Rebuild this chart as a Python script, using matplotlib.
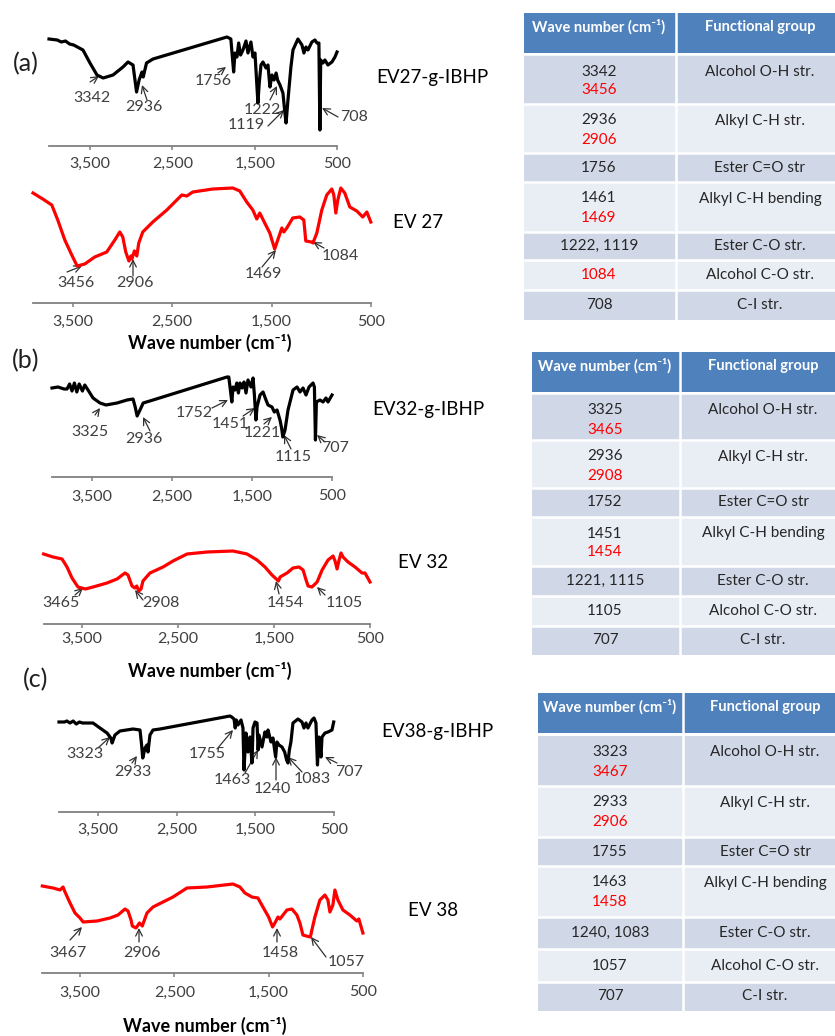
import matplotlib
matplotlib.use("Agg")
import matplotlib.pyplot as plt
from matplotlib.patches import Rectangle

plt.rcParams['font.family'] = ['Lato', 'DejaVu Sans']

# ---------------- FTIR spectra (wavenumber cm-1, transmittance a.u.) ----------------
ev27g_wn = [4000, 3900, 3850, 3800, 3750, 3700, 3587, 3502, 3417, 3342, 3222, 3101, 3040, 2979,
            2960, 2936, 2905, 2870, 2855, 2815, 2736, 1837, 1813, 1790, 1756, 1740, 1716, 1695,
            1672, 1643, 1606, 1582, 1546, 1521, 1497, 1461, 1445, 1424, 1400, 1363, 1339, 1315,
            1290, 1265, 1240, 1222, 1193, 1157, 1133, 1119, 1096, 1060, 1035, 975, 926, 902, 877,
            853, 805, 768, 744, 720, 708, 698, 671, 647, 610, 562, 525, 500]
ev27g_t = [107, 106, 104, 105, 102, 101, 96, 83, 71, 68, 71, 79, 84, 81,
           69, 54, 66, 74, 69, 83, 87, 109, 108, 107, 74, 93, 89, 103,
           91, 96, 105, 93, 104, 89, 93, 43, 63, 81, 84, 78, 81, 59,
           71, 66, 73, 66, 61, 53, 33, 23, 46, 79, 96, 107, 101, 93, 99,
           96, 104, 106, 103, 103, 16, 86, 83, 86, 81, 84, 89, 94]

ev27_wn = [3900, 3802, 3711, 3651, 3580, 3510, 3456, 3379, 3279, 3158, 3077, 3027, 2997, 2967,
           2935, 2915, 2906, 2880, 2856, 2836, 2796, 2695, 2554, 2403, 2353, 2293, 2092, 1890,
           1820, 1750, 1689, 1649, 1619, 1569, 1518, 1469, 1438, 1397, 1377, 1347, 1287, 1216,
           1176, 1156, 1100, 1084, 1045, 995, 945, 894, 874, 854, 834, 804, 764, 713, 643, 583,
           542, 502]
ev27_t = [110, 104, 98, 83, 63, 48, 37, 39, 46, 51, 63, 71, 66, 51,
          42, 47, 44, 52, 47, 60, 71, 81, 93, 108, 107, 111, 114, 115,
          112, 101, 93, 84, 90, 80, 70, 54, 63, 75, 71, 75, 85, 86,
          83, 62, 61, 60, 70, 93, 108, 114, 108, 90, 103, 115, 110, 96, 92, 86,
          91, 81]

ev32g_wn = [4000, 3925, 3850, 3812, 3780, 3750, 3720, 3690, 3660, 3620, 3590, 3550, 3487, 3400,
            3325, 3187, 3062, 2987, 2960, 2936, 2900, 2860, 2737, 1812, 1790, 1752, 1737, 1712,
            1690, 1670, 1650, 1625, 1600, 1575, 1550, 1512, 1487, 1470, 1451, 1437, 1400, 1362,
            1325, 1300, 1250, 1221, 1187, 1150, 1130, 1115, 1087, 1050, 987, 937, 900, 862, 825,
            787, 737, 720, 707, 695, 650, 612, 575, 550, 500]
ev32g_t = [89, 90, 88, 88, 93, 86, 94, 85, 93, 86, 92, 87, 79, 74,
           72, 74, 77, 78, 70, 61, 67, 74, 77, 100, 100, 75, 90, 87,
           94, 84, 94, 89, 95, 84, 97, 90, 99, 82, 57, 70, 82, 85,
           77, 72, 70, 65, 67, 57, 49, 40, 47, 67, 87, 90, 85, 89, 82,
           90, 94, 90, 37, 75, 77, 75, 79, 75, 82]

ev32_wn = [3900, 3802, 3708, 3656, 3604, 3542, 3465, 3385, 3240, 3135, 3052, 3021, 2979, 2950,
           2930, 2908, 2885, 2865, 2792, 2656, 2552, 2406, 2198, 1927, 1781, 1677, 1594, 1521,
           1454, 1437, 1364, 1302, 1239, 1197, 1166, 1145, 1105, 1051, 999, 937, 885, 864, 843,
           822, 802, 781, 729, 656, 583, 552, 500]
ev32_t = [70, 67, 65, 57, 46, 37, 35, 37, 41, 45, 51, 49, 38, 36,
          38, 33, 35, 43, 51, 57, 63, 70, 72, 73, 70, 64, 57, 49,
          43, 47, 51, 56, 57, 54, 44, 38, 37, 42, 54, 64, 68, 63, 55,
          64, 71, 67, 62, 57, 51, 51, 42]

ev38g_wn = [4000, 3930, 3900, 3860, 3820, 3780, 3740, 3700, 3567, 3478, 3388, 3340, 3323, 3287,
            3223, 3057, 2968, 2950, 2933, 2904, 2879, 2866, 2841, 2802, 2713, 1821, 1800, 1770,
            1755, 1740, 1720, 1681, 1656, 1643, 1618, 1592, 1567, 1541, 1528, 1503, 1477, 1463,
            1452, 1414, 1376, 1350, 1337, 1299, 1274, 1240, 1223, 1197, 1159, 1125, 1100, 1083,
            1065, 1045, 1019, 955, 904, 879, 853, 828, 777, 751, 726, 707, 688, 662, 649, 611,
            573, 522, 500]
ev38g_t = [90, 90, 91, 89, 91, 88, 90, 89, 89, 84, 79, 74, 69, 77,
           81, 83, 82, 69, 54, 64, 67, 60, 77, 82, 83, 96, 95, 93,
           84, 92, 87, 92, 84, 42, 79, 60, 75, 49, 84, 90, 89, 62,
           77, 65, 80, 75, 82, 70, 74, 55, 70, 67, 65, 60, 52, 49,
           62, 70, 89, 93, 90, 84, 89, 84, 92, 94, 89, 47, 75, 55, 75, 79,
           80, 82, 90]

ev38_wn = [3900, 3786, 3712, 3680, 3659, 3606, 3553, 3500, 3467, 3320, 3182, 3097, 3023, 2991,
           2959, 2945, 2906, 2870, 2840, 2790, 2726, 2620, 2514, 2366, 2154, 1878, 1804, 1751,
           1677, 1613, 1560, 1500, 1458, 1433, 1401, 1380, 1306, 1253, 1200, 1168, 1136, 1100,
           1057, 1041, 1009, 956, 903, 871, 850, 818, 797, 765, 712, 638, 564, 543, 500]
ev38_t = [87, 85, 83, 86, 81, 70, 60, 55, 51, 52, 55, 58, 64, 62,
          53, 47, 45, 50, 47, 60, 66, 71, 76, 85, 86, 89, 86, 80,
          76, 75, 66, 56, 46, 50, 56, 54, 63, 64, 58, 50, 38, 37,
          36, 43, 56, 73, 78, 73, 61, 68, 83, 73, 63, 58, 52, 54, 40]

tick_values = [3500, 2500, 1500, 500]
tick_labels = ['3,500', '2,500', '1,500', '500']

# ---------------- peak assignment tables ----------------
group_names = ["Alcohol O-H str.", "Alkyl C-H str.", "Ester C=O str", "Alkyl C-H bending",
               "Ester C-O str.", "Alcohol C-O str.", "C-I str."]
table_a_grafted = ["3342", "2936", "1756", "1461", "1222, 1119", "", "708"]
table_a_native = ["3456", "2906", "", "1469", "", "1084", ""]
table_b_grafted = ["3325", "2936", "1752", "1451", "1221, 1115", "1105", "707"]
table_b_native = ["3465", "2908", "", "1454", "", "", ""]
table_c_grafted = ["3323", "2933", "1755", "1463", "1240, 1083", "1057", "707"]
table_c_native = ["3467", "2906", "", "1458", "", "", ""]

W, H = 835, 1036
fig = plt.figure(figsize=(W / 100, H / 100), dpi=100)
canvas = fig.add_axes([0, 0, 1, 1])
canvas.set_xlim(0, W)
canvas.set_ylim(H, 0)
canvas.axis('off')

TXT = '#404040'
RED = '#ff0000'
NOTE_SIZE = 11.5


def spectrum(x0, x1, top, spine, wn_max, wn, t, color, pad):
    ax = fig.add_axes([x0 / W, 1 - spine / H, (x1 - x0) / W, (spine - top) / H])
    ax.plot(wn, t, color=color, lw=2.3, solid_joinstyle='round', clip_on=False)
    ax.set_xlim(wn_max, 500)
    ax.set_ylim(0, spine - top)
    ax.patch.set_alpha(0)
    for s in ['top', 'right', 'left']:
        ax.spines[s].set_visible(False)
    ax.spines['bottom'].set_color('#808080')
    ax.spines['bottom'].set_linewidth(1.3)
    ax.set_yticks([])
    ax.set_xticks(tick_values)
    ax.set_xticklabels(tick_labels)
    ax.tick_params(axis='x', direction='out', length=3, width=1.1, color='#808080',
                   labelsize=11.5, labelcolor=TXT, pad=pad)
    return ax


def notes(items):
    for label, tx, ty, ax_, ay_, px, py in items:
        canvas.annotate('', xy=(px, py), xytext=(ax_, ay_),
                        arrowprops=dict(arrowstyle='->', lw=0.9, color='#303030',
                                        shrinkA=0, shrinkB=0, mutation_scale=12))
        canvas.text(tx, ty, label, ha='center', va='center', fontsize=NOTE_SIZE, color=TXT)


# panel (a)
spectrum(49, 337, 30, 146, 4000, ev27g_wn, ev27g_t, 'black', 5)
spectrum(33, 371, 178, 303, 3900, ev27_wn, ev27_t, RED, 5.5)
notes([("3342", 92, 98, 90, 82, 99, 76),
       ("2936", 144, 107, 147, 100, 142, 85),
       ("1756", 213, 81, 218, 73, 226, 67),
       ("1222", 262, 110, 270, 100, 277, 86),
       ("1119", 246, 125, 268, 126, 284, 110),
       ("708", 354, 117, 338, 117, 322, 108)])
notes([("3456", 76, 283, 67, 272, 82, 266),
       ("2906", 135, 283, 133, 276, 133, 259),
       ("1469", 263, 274, 262, 267, 276, 250),
       ("1084", 340, 256, 324, 248, 313, 242)])

# panel (b)
spectrum(52, 332, 370, 477, 4000, ev32g_wn, ev32g_t, 'black', 6)
spectrum(43.6, 370, 545, 624, 3900, ev32_wn, ev32_t, RED, 3)
notes([("3325", 90, 432, 95, 415, 100, 408),
       ("2936", 144, 439, 150, 431, 143, 417),
       ("1752", 194, 413, 212, 408, 228, 400),
       ("1451", 230, 424, 243, 416, 255, 408),
       ("1221", 262, 433, 264, 424, 272, 417),
       ("1115", 293, 457, 291, 449, 284, 435),
       ("707", 335, 448, 325, 442, 317, 435)])
notes([("3465", 61, 603, 75, 595, 83, 588),
       ("2908", 161, 603, 143, 600, 135, 590),
       ("1454", 285, 603, 279, 594, 276, 581),
       ("1105", 344, 603, 325, 595, 317, 587)])

# panel (c)
spectrum(59, 333.7, 705, 812, 4000, ev38g_wn, ev38g_t, 'black', 5)
spectrum(42.3, 362.9, 875, 973, 3900, ev38_wn, ev38_t, RED, 6)
notes([("3323", 85, 754, 98, 748, 110, 737),
       ("2933", 133, 772, 132, 763, 137, 756),
       ("1755", 207, 754, 217, 749, 233, 730),
       ("1463", 232, 780, 245, 773, 258, 750),
       ("1240", 272, 789, 276, 780, 276, 757),
       ("1083", 312, 779, 302, 772, 288, 757),
       ("707", 349, 772, 337, 763, 325, 757)])
notes([("3467", 68, 953, 70, 940, 82, 927),
       ("2906", 142, 953, 139, 942, 139, 928),
       ("1458", 280, 953, 277, 942, 277, 928),
       ("1057", 346, 962, 326, 957, 311, 937)])

# panel letters, sample names and axis titles
for letter, x, y in [("(a)", 26, 64), ("(b)", 26, 361), ("(c)", 36, 680)]:
    canvas.text(x, y, letter, ha='center', va='center', fontsize=18, color='#202020')
for name, x, y in [("EV27-g-IBHP", 432, 78), ("EV 27", 418, 223),
                   ("EV32-g-IBHP", 428, 410), ("EV 32", 423, 563),
                   ("EV38-g-IBHP", 437, 731), ("EV 38", 433, 910)]:
    canvas.text(x, y, name, ha='center', va='center', fontsize=13.5, color='black')
for x, y in [(210, 343), (210, 671), (205, 1026)]:
    canvas.text(x, y, "Wave number (cm\u207b\u00b9)", ha='center', va='center',
                fontsize=13, fontweight='bold', color='black')


def table(left, right, div, head_top, head_bot, edges, c1, c2, grafted, native):
    blue = '#4f81bd'
    canvas.add_patch(Rectangle((left, head_top), right - left, head_bot - head_top,
                               facecolor=blue, edgecolor='none'))
    canvas.text(c1, head_top + 14, "Wave number (cm\u207b\u00b9)", ha='center', va='center',
                fontsize=10.5, fontweight='bold', color='white')
    canvas.text(c2, head_top + 14, "Functional group", ha='center', va='center',
                fontsize=10.5, fontweight='bold', color='white')
    for i in range(len(group_names)):
        top, bot = edges[i], edges[i + 1]
        fill = '#d0d8e8' if i % 2 == 0 else '#e9edf4'
        canvas.add_patch(Rectangle((left, top), right - left, bot - top,
                                   facecolor=fill, edgecolor='none'))
        lines = [(s, c) for s, c in [(grafted[i], '#262626'), (native[i], RED)] if s]
        if len(lines) == 2:
            y1 = top + 16.5
            canvas.text(c1, y1, lines[0][0], ha='center', va='center', fontsize=11, color=lines[0][1])
            canvas.text(c1, y1 + 19, lines[1][0], ha='center', va='center', fontsize=11, color=lines[1][1])
            canvas.text(c2, y1, group_names[i], ha='center', va='center', fontsize=11, color='#262626')
        else:
            yc = (top + bot) / 2
            if lines:
                canvas.text(c1, yc, lines[0][0], ha='center', va='center', fontsize=11, color=lines[0][1])
            canvas.text(c2, yc, group_names[i], ha='center', va='center', fontsize=11, color='#262626')
    for e in [head_bot + 1] + list(edges[1:-1]):
        canvas.plot([left, right], [e, e], color='white', lw=1.8)
    canvas.plot([div, div], [head_top, edges[-1]], color='white', lw=1.8)


table(524, 835, 676, 13, 53, [55, 104, 153, 182, 232, 260, 290, 320], 599, 760,
      table_a_grafted, table_a_native)
table(532, 835, 680, 352, 392, [394, 440, 488, 517, 566, 596, 626, 655], 605, 763,
      table_b_grafted, table_b_native)
table(538, 835, 683, 693, 733, [736, 786, 837, 866, 917, 949, 982, 1011], 610, 765,
      table_c_grafted, table_c_native)

fig.savefig("out.png", dpi=100, facecolor='white')
